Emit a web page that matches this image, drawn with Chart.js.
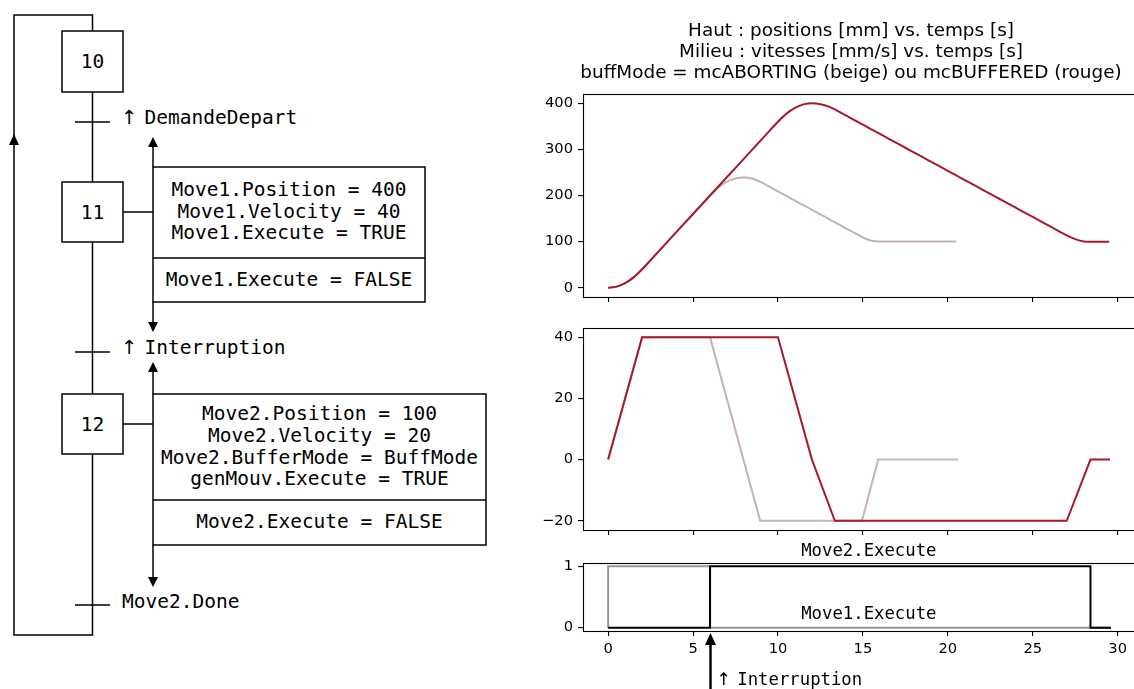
<!DOCTYPE html>
<html>
<head>
<meta charset="utf-8">
<script src="https://cdn.jsdelivr.net/npm/chart.js@4/dist/chart.umd.min.js"></script>
<style>
html,body{margin:0;padding:0;background:#fff;width:1134px;height:689px;overflow:hidden;position:relative}
canvas{position:absolute}
#grafcet{position:absolute;left:0;top:0}
</style>
</head>
<body>
<svg id="grafcet" width="530" height="689" xmlns="http://www.w3.org/2000/svg" font-family="DejaVu Sans Mono" font-size="19.5">
  <g fill="none" stroke="#000" stroke-width="1.5">
    <polyline points="92.5,31 92.5,15 14,15 14,635 92.5,635 92.5,454"/>
    <line x1="92.5" y1="92" x2="92.5" y2="182"/>
    <line x1="92.5" y1="242" x2="92.5" y2="394"/>
    <rect x="62" y="31" width="61" height="61"/>
    <rect x="62" y="182" width="61" height="60"/>
    <rect x="62" y="394" width="61" height="60"/>
    <line x1="75" y1="122" x2="110" y2="122"/>
    <line x1="75" y1="352" x2="110" y2="352"/>
    <line x1="75" y1="605" x2="110" y2="605"/>
    <line x1="123" y1="212" x2="153" y2="212"/>
    <rect x="153" y="167" width="272" height="135"/>
    <line x1="153" y1="258" x2="425" y2="258"/>
    <line x1="123" y1="424" x2="153" y2="424"/>
    <rect x="153" y="394" width="333" height="151"/>
    <line x1="153" y1="500" x2="486" y2="500"/>
    <line x1="153" y1="145" x2="153" y2="167"/>
    <line x1="153" y1="302" x2="153" y2="324"/>
    <line x1="153" y1="370" x2="153" y2="394"/>
    <line x1="153" y1="545" x2="153" y2="579"/>
  </g>
  <g fill="#000">
    <polygon points="14,134 9,145 19,145"/>
    <polygon points="153,137 148,147 158,147"/>
    <polygon points="153,332 148,322 158,322"/>
    <polygon points="153,362 148,372 158,372"/>
    <polygon points="153,587 148,577 158,577"/>
  </g>
  <g fill="#000" dominant-baseline="central">
    <text x="92.5" y="61.5" text-anchor="middle">10</text>
    <text x="92.5" y="212" text-anchor="middle">11</text>
    <text x="92.5" y="424" text-anchor="middle">12</text>
    <text x="121" y="117" font-family="DejaVu Sans">↑</text>
    <text x="144.5" y="117">DemandeDepart</text>
    <text x="121" y="347" font-family="DejaVu Sans">↑</text>
    <text x="144.5" y="347">Interruption</text>
    <text x="122" y="601">Move2.Done</text>
    <text x="289" y="189" text-anchor="middle">Move1.Position = 400</text>
    <text x="289" y="211" text-anchor="middle">Move1.Velocity = 40</text>
    <text x="289" y="232" text-anchor="middle">Move1.Execute = TRUE</text>
    <text x="289" y="279" text-anchor="middle">Move1.Execute = FALSE</text>
    <text x="319.5" y="413" text-anchor="middle">Move2.Position = 100</text>
    <text x="319.5" y="435" text-anchor="middle">Move2.Velocity = 20</text>
    <text x="319.5" y="457" text-anchor="middle">Move2.BufferMode = BuffMode</text>
    <text x="319.5" y="478" text-anchor="middle">genMouv.Execute = TRUE</text>
    <text x="319.5" y="521" text-anchor="middle">Move2.Execute = FALSE</text>
  </g>
</svg>

<canvas id="cPos" width="642" height="306" style="left:530px;top:0px"></canvas>
<canvas id="cVel" width="642" height="219" style="left:530px;top:320px"></canvas>
<canvas id="cExec" width="642" height="151" style="left:530px;top:538px"></canvas>

<script>
// ---------- data ----------
const titleLines = [
  'Haut : positions [mm] vs. temps [s]',
  'Milieu : vitesses [mm/s] vs. temps [s]',
  'buffMode = mcABORTING (beige) ou mcBUFFERED (rouge)'
];
const timeTicks = [0, 5, 10, 15, 20, 25, 30];
const posTicks = [0, 100, 200, 300, 400];
const velTicks = [-20, 0, 20, 40];
const execTicks = [0, 1];

const posTimes = [0,0.5,1,1.5,2,2.5,3,3.5,4,4.5,5,5.5,6,6.5,7,7.5,8,8.5,9,9.5,
  10,10.5,11,11.5,12,12.5,13,13.5,14,14.5,15,15.5,16,16.5,17,17.5,18,18.5,19,19.5,
  20,20.5,21,21.5,22,22.5,23,23.5,24,24.5,25,25.5,26,26.5,27,27.5,28,28.5,29,29.5];
const posBuffered = [0,2.5,10,22.5,40,60,80,100,120,140,160,180,200,220,240,260,280,300,320,340,
  360,377.5,390,397.5,400,398,392.5,383.5,373.5,363.5,353.5,343.5,333.5,323.5,313.5,303.5,293.5,283.5,273.5,263.5,
  253.5,243.5,233.5,223.5,213.5,203.5,193.5,183.5,173.5,163.5,153.5,143.5,133.5,123.5,113.5,105.5,100.5,99.5,99.5,99.5];
const posAborting = [0,2.5,10,22.5,40,60,80,100,120,140,160,180,200,217.5,230,237,239,236.5,229,219,
  209,199,189,179,169,159,149,139,129,119,109,102,100.5,100.5,100.5,100.5,100.5,100.5,100.5,100.5,
  100.5,100.5];

const velTimesBuffered = [0, 2, 10, 12, 13.35, 27, 28.4, 29.55];
const velBuffered      = [0, 40, 40, 0, -20, -20, 0, 0];
const velTimesAborting = [0, 2, 6, 8.95, 14.95, 15.9, 20.6];
const velAborting      = [0, 40, 40, -20, -20, 0, 0];

const execTimesMove1 = [0, 0, 6, 29.6];
const execMove1      = [0, 1, 0, 0];
const execTimesMove2 = [0, 6, 28.4, 29.6];
const execMove2      = [0, 1, 0, 0];
const interruptionTime = 6;

// ---------- helpers ----------
const RED = '#a6192e', BEIGE = '#c3b5ad', GREY = '#979797', BLACK = '#000000';
const X_MIN = -1.48, X_MAX = 31.08;
const pts = (xs, ys) => ys.map((y, i) => ({x: xs[i], y}));
const tickFont = {family: 'DejaVu Sans', size: 14.7};
const fmt = v => (v < 0 ? '\u2212' + Math.abs(v) : String(v));

const framePlugin = {
  id: 'frame',
  afterDatasetsDraw(chart) {
    const {ctx, chartArea: a} = chart;
    ctx.save();
    ctx.strokeStyle = '#000';
    ctx.lineWidth = 1.1;
    ctx.strokeRect(Math.round(a.left) + 0.5, Math.round(a.top) + 0.5,
                   Math.round(a.right - a.left), Math.round(a.bottom - a.top));
    ctx.restore();
  }
};

// figure-level title (centred at page x = 851, i.e. canvas x = 321)
const supTitlePlugin = {
  id: 'supTitle',
  afterDraw(chart) {
    const {ctx} = chart;
    ctx.save();
    ctx.fillStyle = '#000';
    ctx.font = '18.4px "DejaVu Sans"';
    ctx.textAlign = 'center';
    ctx.textBaseline = 'middle';
    titleLines.forEach((t, i) => ctx.fillText(t, 321, 31.5 + i * 20.9));
    ctx.restore();
  }
};

const noPad = s => { s.paddingTop = 0; s.paddingBottom = 0; s.paddingLeft = 0; s.paddingRight = 0; };

function makeOptions(cfg) {
  const grid = {display: true, drawOnChartArea: false, drawTicks: true, tickLength: 5,
                color: '#000', lineWidth: 1.1};
  return {
    responsive: false, animation: false, events: [],
    layout: {padding: {top: cfg.padTop, right: 36, left: 0, bottom: 0}, autoPadding: false},
    plugins: {legend: {display: false}, tooltip: {enabled: false}, title: {display: false}},
    scales: {
      x: {
        type: 'linear', min: X_MIN, max: X_MAX,
        afterBuildTicks: s => { s.ticks = timeTicks.map(v => ({value: v})); },
        afterFit: s => { s.height = cfg.xHeight; noPad(s); },
        grid, border: {display: false},
        ticks: {autoSkip: false, maxRotation: 0, color: '#000', font: tickFont, padding: 4,
                callback: cfg.xLabels ? (v => fmt(v)) : (() => '')}
      },
      y: {
        type: 'linear', min: cfg.yMin, max: cfg.yMax,
        afterBuildTicks: s => { s.ticks = cfg.yTicks.map(v => ({value: v})); },
        afterFit: s => { s.width = 53; noPad(s); },
        grid, border: {display: false},
        ticks: {autoSkip: false, color: '#000', font: tickFont, padding: 5, callback: v => fmt(v)}
      }
    }
  };
}

const lineDs = (data, color, extra) => Object.assign({
  data, borderColor: color, backgroundColor: color, borderWidth: 2,
  pointRadius: 0, fill: false, tension: 0
}, extra || {});

// ---------- position chart ----------
new Chart(document.getElementById('cPos'), {
  type: 'line',
  data: {datasets: [
    lineDs(pts(posTimes, posBuffered), RED, {cubicInterpolationMode: 'monotone'}),
    lineDs(pts(posTimes, posAborting), BEIGE, {cubicInterpolationMode: 'monotone'})
  ]},
  options: makeOptions({padTop: 94, xHeight: 9, xLabels: false,
                        yMin: -20, yMax: 420, yTicks: posTicks}),
  plugins: [framePlugin, supTitlePlugin]
});

// ---------- velocity chart ----------
new Chart(document.getElementById('cVel'), {
  type: 'line',
  data: {datasets: [
    lineDs(pts(velTimesBuffered, velBuffered), RED),
    lineDs(pts(velTimesAborting, velAborting), BEIGE)
  ]},
  options: makeOptions({padTop: 8, xHeight: 9, xLabels: false,
                        yMin: -23, yMax: 43, yTicks: velTicks}),
  plugins: [framePlugin]
});

// ---------- execute chart ----------
const execAnnotations = {
  id: 'execAnn',
  afterDraw(chart) {
    const {ctx, scales: {x, y}, chartArea} = chart;
    ctx.save();
    ctx.fillStyle = '#000';
    ctx.strokeStyle = '#000';
    const mono = '17.3px "DejaVu Sans Mono"';
    ctx.font = mono;
    ctx.textAlign = 'center';
    ctx.textBaseline = 'middle';
    ctx.fillText('Move2.Execute', x.getPixelForValue(15.35), y.getPixelForValue(1.235));
    ctx.fillText('Move1.Execute', x.getPixelForValue(15.35), y.getPixelForValue(0.207));
    const ax = Math.round(x.getPixelForValue(interruptionTime)) + 0.5;
    const tip = chartArea.bottom + 2;
    ctx.lineWidth = 2.5;
    ctx.beginPath(); ctx.moveTo(ax, chart.height); ctx.lineTo(ax, tip + 10); ctx.stroke();
    ctx.beginPath(); ctx.moveTo(ax, tip); ctx.lineTo(ax - 5.5, tip + 12); ctx.lineTo(ax + 5.5, tip + 12);
    ctx.closePath(); ctx.fill();
    ctx.textAlign = 'left';
    const cell = ctx.measureText(' ').width;
    const ty = chart.height - 8;
    ctx.fillText('Interruption', ax + 6 + 2 * cell, ty);
    ctx.font = '17.3px "DejaVu Sans"';
    ctx.fillText('\u2191', ax + 6, ty);
    ctx.restore();
  }
};

new Chart(document.getElementById('cExec'), {
  type: 'line',
  data: {datasets: [
    lineDs(pts(execTimesMove2, execMove2), BLACK, {stepped: true}),
    lineDs(pts(execTimesMove1, execMove1), GREY, {stepped: true})
  ]},
  options: makeOptions({padTop: 25, xHeight: 58, xLabels: true,
                        yMin: -0.055, yMax: 1.055, yTicks: execTicks}),
  plugins: [framePlugin, execAnnotations]
});
</script>
</body>
</html>
